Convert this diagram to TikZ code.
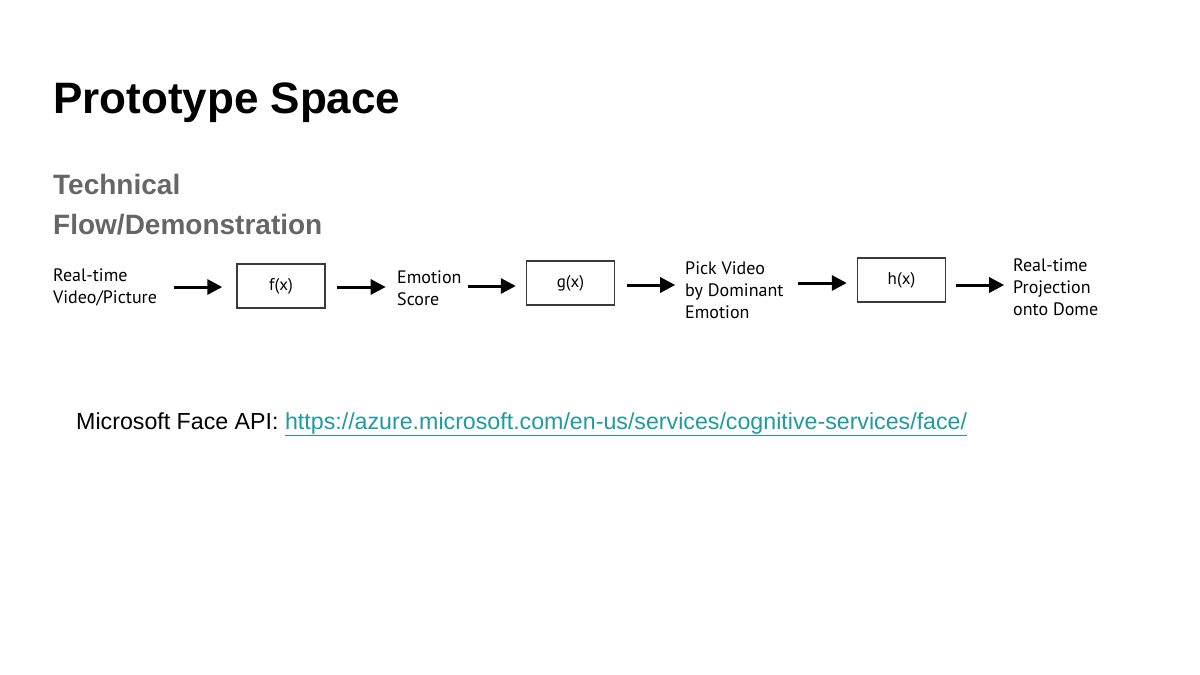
\documentclass[tikz,border=0pt]{standalone}
\usepackage{fontspec}
\usetikzlibrary{arrows.meta,calc}
\setmainfont{Liberation Sans}
\newfontfamily\headfont{Liberation Sans}
\newfontfamily\flowfont{PT Sans}
\definecolor{subgray}{HTML}{666666}
\definecolor{linkteal}{HTML}{1E9AA0}
\definecolor{boxgray}{HTML}{3A3A3A}
\begin{document}
\begin{tikzpicture}[x=1pt,y=-1pt,
  label/.style={font=\flowfont\fontsize{18}{22}\selectfont, align=left, anchor=west, inner sep=0pt},
  fbox/.style={draw=boxgray, line width=1.4pt, minimum width=88pt, minimum height=44pt, inner sep=0pt,
    font=\flowfont\fontsize{17}{22}\selectfont},
  flow/.style={line width=3pt, -{Triangle[length=15pt,width=15pt]}}]
\useasboundingbox (0,0) rectangle (1200,675);

% heading
\node[anchor=base west, inner sep=0pt, font=\headfont\bfseries\fontsize{44}{52}\selectfont] (title) at (53,113) {Prototype Space};
\node[anchor=base west, inner sep=0pt, text=subgray, font=\headfont\bfseries\fontsize{28}{40}\selectfont, align=left] (sub) at (53,234) {Technical\\Flow/Demonstration};

% pipeline stages
\node[label] (in) at (53,287) {Real-time\\Video/Picture};
\node[fbox] (f) at (281,286) {f(x)};
\node[label] (score) at (397,288) {Emotion\\Score};
\node[fbox] (g) at (570.5,283) {g(x)};
\node[label] (pick) at (685,290) {Pick Video\\by Dominant\\Emotion};
\node[fbox] (h) at (901.5,280) {h(x)};
\node[label] (out) at (1013,287) {Real-time\\Projection\\onto Dome};

% connectors, placed against the function boxes
\draw[flow] ($(f.west)+(-62,1)$) -- ($(f.west)+(-14,1)$);
\draw[flow] ($(f.east)+(11,1)$) -- ($(f.east)+(60,1)$);
\draw[flow] ($(g.west)+(-58,3)$) -- ($(g.west)+(-10,3)$);
\draw[flow] ($(g.east)+(11.5,2)$) -- ($(g.east)+(60,2)$);
\draw[flow] ($(h.west)+(-58.5,3)$) -- ($(h.west)+(-10,3)$);
\draw[flow] ($(h.east)+(9.5,5)$) -- ($(h.east)+(58,5)$);

% reference link
\node[anchor=base west, inner sep=0pt, font=\fontsize{23.2}{27}\selectfont] (api) at (76,429)
  {Microsoft Face API: \textcolor{linkteal}{\underline{https://azure.microsoft.com/en-us/services/cognitive-services/face/}}};
\end{tikzpicture}
\end{document}
